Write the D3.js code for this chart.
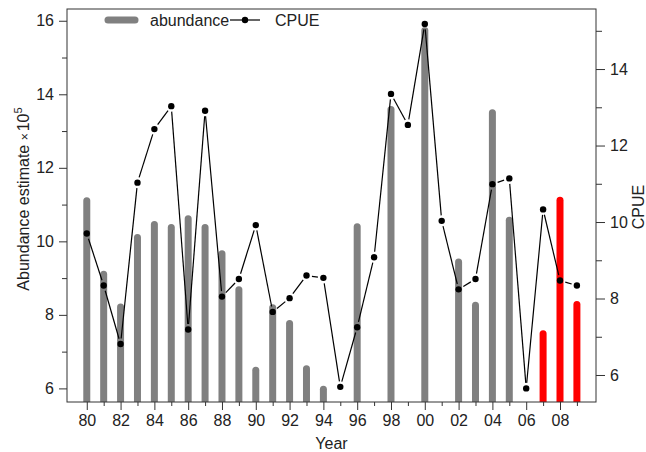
<!DOCTYPE html>
<html>
<head>
<meta charset="utf-8">
<script src="https://cdn.jsdelivr.net/npm/d3@7"></script>
<style>
  body { margin: 0; background: #fff; }
  text { font-family: Arial, "Liberation Sans", sans-serif; fill: #222; }
</style>
</head>
<body>
<div id="chart"></div>
<script>
// years of the survey
var years = [1980, 1981, 1982, 1983, 1984, 1985, 1986, 1987, 1988, 1989,
             1990, 1991, 1992, 1993, 1994, 1995, 1996, 1997, 1998, 1999,
             2000, 2001, 2002, 2003, 2004, 2005, 2006, 2007, 2008, 2009];
// abundance estimate (x 10^5), null = no estimate that year
var abundance = [11.2, 9.2, 8.31, 10.2, 10.55, 10.47, 10.71, 10.47, 9.76, 8.78,
                 6.59, 8.29, 7.86, 6.63, 6.07, null, 10.49, null, 13.68, null,
                 15.83, null, 9.53, 8.36, 13.59, 10.67, null, 7.58, 11.21, 8.38];
// catch per unit effort
var cpue = [9.70, 8.34, 6.81, 11.03, 12.43, 13.03, 7.19, 12.91, 8.05, 8.51,
            9.92, 7.65, 8.01, 8.60, 8.54, 5.69, 7.25, 9.08, 13.35, 12.54,
            15.18, 10.03, 8.24, 8.51, 10.99, 11.14, 5.65, 10.33, 8.47, 8.34];
// the most recent estimates are shown in red
var highlightYears = [2007, 2008, 2009];
var leftTicks = [6, 7, 8, 9, 10, 11, 12, 13, 14, 15, 16];
var rightTicks = [6, 7, 8, 9, 10, 11, 12, 13, 14, 15];

var W = 646, H = 452;
var pLeft = 67, pRight = 596, pTop = 9, pBottom = 402;
var fs = '16px';

var svg = d3.select('#chart').append('svg')
    .attr('width', W)
    .attr('height', H);

var x = d3.scaleLinear().domain([1978.83, 2010.13]).range([pLeft, pRight]);
var yL = d3.scaleLinear().domain([5.63, 16.32]).range([pBottom, pTop]);
var yR = d3.scaleLinear().domain([5.294, 15.57]).range([pBottom, pTop]);

svg.append('clipPath').attr('id', 'plotclip')
  .append('rect')
    .attr('x', pLeft).attr('y', pTop)
    .attr('width', pRight - pLeft).attr('height', pBottom - pTop);

// bars for abundance (thick lines with round tops)
var barData = years.map(function (yr, i) { return { year: yr, v: abundance[i] }; })
                   .filter(function (d) { return d.v != null; });

svg.append('g').attr('clip-path', 'url(#plotclip)')
  .selectAll('line')
  .data(barData).enter().append('line')
    .attr('x1', function (d) { return x(d.year); })
    .attr('x2', function (d) { return x(d.year); })
    .attr('y1', function (d) { return yL(d.v) + 3.5; })
    .attr('y2', pBottom + 5)
    .attr('stroke', function (d) { return highlightYears.indexOf(d.year) >= 0 ? '#ff0000' : '#808080'; })
    .attr('stroke-width', 7)
    .attr('stroke-linecap', 'round');

// CPUE line, drawn with gaps around the points
var pts = years.map(function (yr, i) { return { px: x(yr), py: yR(cpue[i]) }; });
var gap = 5.5;
var segs = [];
for (var i = 0; i < pts.length - 1; i++) {
    var a = pts[i], b = pts[i + 1];
    var dx = b.px - a.px, dy = b.py - a.py;
    var len = Math.sqrt(dx * dx + dy * dy);
    if (len > 2 * gap) {
        segs.push({
            x1: a.px + dx * gap / len, y1: a.py + dy * gap / len,
            x2: b.px - dx * gap / len, y2: b.py - dy * gap / len
        });
    }
}
svg.append('g').selectAll('line')
  .data(segs).enter().append('line')
    .attr('x1', function (d) { return d.x1; })
    .attr('y1', function (d) { return d.y1; })
    .attr('x2', function (d) { return d.x2; })
    .attr('y2', function (d) { return d.y2; })
    .attr('stroke', '#000')
    .attr('stroke-width', 1.2);

svg.append('g').selectAll('circle')
  .data(pts).enter().append('circle')
    .attr('cx', function (d) { return d.px; })
    .attr('cy', function (d) { return d.py; })
    .attr('r', 3.2)
    .attr('fill', '#000');

// frame
svg.append('rect')
    .attr('x', pLeft).attr('y', pTop)
    .attr('width', pRight - pLeft).attr('height', pBottom - pTop)
    .attr('fill', 'none')
    .attr('stroke', '#333')
    .attr('stroke-width', 1);

// left axis
var gL = svg.append('g').attr('transform', 'translate(' + pLeft + ',0)')
    .call(d3.axisLeft(yL).tickValues(leftTicks)
        .tickSize(0).tickPadding(13)
        .tickFormat(function (d) { return d % 2 === 0 ? d : ''; }));
gL.selectAll('.tick line').attr('x2', function (d) { return d % 2 === 0 ? -8 : -5; });

// right axis
var gR = svg.append('g').attr('transform', 'translate(' + pRight + ',0)')
    .call(d3.axisRight(yR).tickValues(rightTicks)
        .tickSize(0).tickPadding(14)
        .tickFormat(function (d) { return d % 2 === 0 ? d : ''; }));
gR.selectAll('.tick line').attr('x2', function (d) { return d % 2 === 0 ? 9 : 6; });

// bottom axis
var gB = svg.append('g').attr('transform', 'translate(0,' + pBottom + ')')
    .call(d3.axisBottom(x).tickValues(years)
        .tickSize(0).tickPadding(13)
        .tickFormat(function (d) { return d % 2 === 0 ? d3.format('02d')(d % 100) : ''; }));
gB.selectAll('.tick line').attr('y2', function (d) { return d % 2 === 0 ? 8 : 4; });

[gL, gR, gB].forEach(function (g) {
    g.select('.domain').remove();
    g.selectAll('.tick line').attr('stroke', '#333');
    g.selectAll('.tick text')
        .attr('font-size', fs)
        .attr('font-family', 'Arial, "Liberation Sans", sans-serif')
        .attr('fill', '#222');
});

// axis titles
svg.append('text')
    .attr('x', (pLeft + pRight) / 2).attr('y', 449)
    .attr('text-anchor', 'middle')
    .attr('font-size', fs)
    .text('Year');

var tl = svg.append('text')
    .attr('transform', 'translate(29,199) rotate(-90)')
    .attr('text-anchor', 'middle')
    .attr('font-size', fs);
tl.append('tspan').text('Abundance estimate  ');
tl.append('tspan').attr('font-size', '12px').text('\u00d7');
tl.append('tspan').attr('dx', 2).text('10');
tl.append('tspan').attr('font-size', '11px').attr('dy', -7).text('5');

svg.append('text')
    .attr('transform', 'translate(644,207) rotate(-90)')
    .attr('text-anchor', 'middle')
    .attr('font-size', fs)
    .text('CPUE');

// legend
var lg = svg.append('g');
lg.append('line')
    .attr('x1', 108).attr('x2', 135).attr('y1', 20).attr('y2', 20)
    .attr('stroke', '#808080').attr('stroke-width', 7).attr('stroke-linecap', 'round');
lg.append('text').attr('x', 150).attr('y', 26).attr('font-size', fs).text('abundance');
lg.append('line')
    .attr('x1', 230).attr('x2', 260).attr('y1', 20).attr('y2', 20)
    .attr('stroke', '#000').attr('stroke-width', 1.2);
lg.append('circle').attr('cx', 245).attr('cy', 20).attr('r', 3.2).attr('fill', '#000');
lg.append('text').attr('x', 275).attr('y', 26).attr('font-size', fs).text('CPUE');
</script>
</body>
</html>
